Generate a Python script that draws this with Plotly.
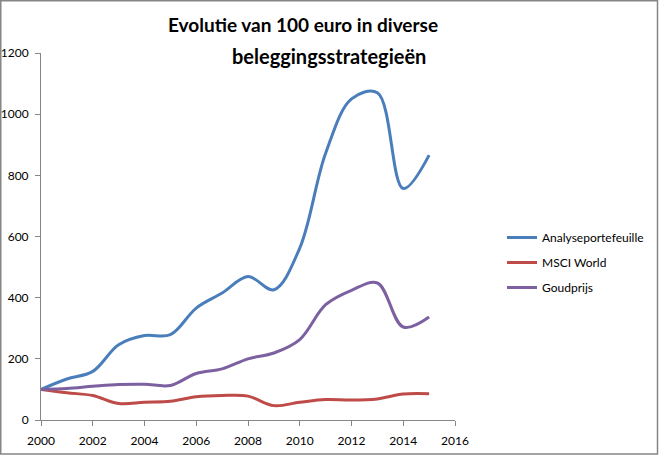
import plotly.graph_objects as go

years = list(range(2000, 2016))
analyse = [100, 134, 159, 246, 276, 279, 366, 415, 469, 426, 562, 872, 1050, 1070, 757, 866]
msci = [100, 89, 80, 54, 58, 61, 76, 80, 78, 47, 58, 67, 65, 69, 85, 86]
goud = [100, 103, 110, 116, 117, 113, 152, 167, 200, 219, 263, 377, 424, 448, 304, 337]

names = ["Analyseportefeuille", "MSCI World", "Goudprijs"]
colors = ["#4A7EBB", "#BE4B48", "#7D60A0"]
title1 = "Evolutie van 100 euro in diverse"
title2 = "beleggingsstrategieën"

W, H = 659, 456
ML, MR, MT, MB = 41, 204, 53, 36
PW, PH = W - ML - MR, H - MT - MB

def px(x):
    return (x - ML) / PW

def py(y):
    return (H - MB - y) / PH

FONT = "Lato"

fig = go.Figure()
for name, vals, col in zip(names, [analyse, msci, goud], colors):
    fig.add_trace(go.Scatter(
        x=years, y=vals, name=name, mode="lines",
        line=dict(color=col, width=3, shape="spline", smoothing=1.0),
        legendgroup=name,
    ))

fig.update_layout(
    width=W, height=H,
    margin=dict(l=ML, r=MR, t=MT, b=MB, autoexpand=False),
    paper_bgcolor="white", plot_bgcolor="white",
    font=dict(family=FONT, size=12, color="black"),
    showlegend=True,
    legend=dict(x=px(502), y=py(223), xanchor="left", yanchor="top",
                font=dict(family=FONT, size=12, color="black"),
                tracegroupgap=6, bgcolor="rgba(0,0,0,0)"),
    xaxis=dict(range=[2000, 2016], tickmode="array", tickvals=list(range(2000, 2017, 2)),
               showgrid=False, zeroline=False, showline=True, linecolor="#868686", linewidth=1,
               ticks="outside", ticklen=5, tickcolor="#868686", automargin=False,
               ticklabelstandoff=5,
               tickfont=dict(family=FONT, size=12, color="black")),
    yaxis=dict(range=[0, 1200], tickmode="array", tickvals=list(range(0, 1201, 200)),
               showgrid=False, zeroline=False, showline=True, linecolor="#868686", linewidth=1,
               ticks="outside", ticklen=5, tickcolor="#868686", automargin=False,
               ticklabelstandoff=4,
               tickfont=dict(family=FONT, size=12, color="black")),
    annotations=[
        dict(text="<b>" + title1 + "</b>", xref="paper", yref="paper", x=px(303), y=py(25),
             xanchor="center", yanchor="middle", showarrow=False,
             font=dict(family=FONT, size=19, color="black")),
        dict(text="<b>" + title2 + "</b>", xref="paper", yref="paper", x=px(329), y=py(56),
             xanchor="center", yanchor="middle", showarrow=False,
             font=dict(family=FONT, size=20, color="black")),
    ],
    shapes=[dict(type="rect", xref="paper", yref="paper",
                 x0=px(0.75), x1=px(657.5), y0=py(454), y1=py(0.75),
                 line=dict(color="#868686", width=1.5), layer="below")],
)

fig.write_html("out.html", config={"displayModeBar": False},
               post_script="document.body.style.margin='0';document.body.style.overflow='hidden';")
